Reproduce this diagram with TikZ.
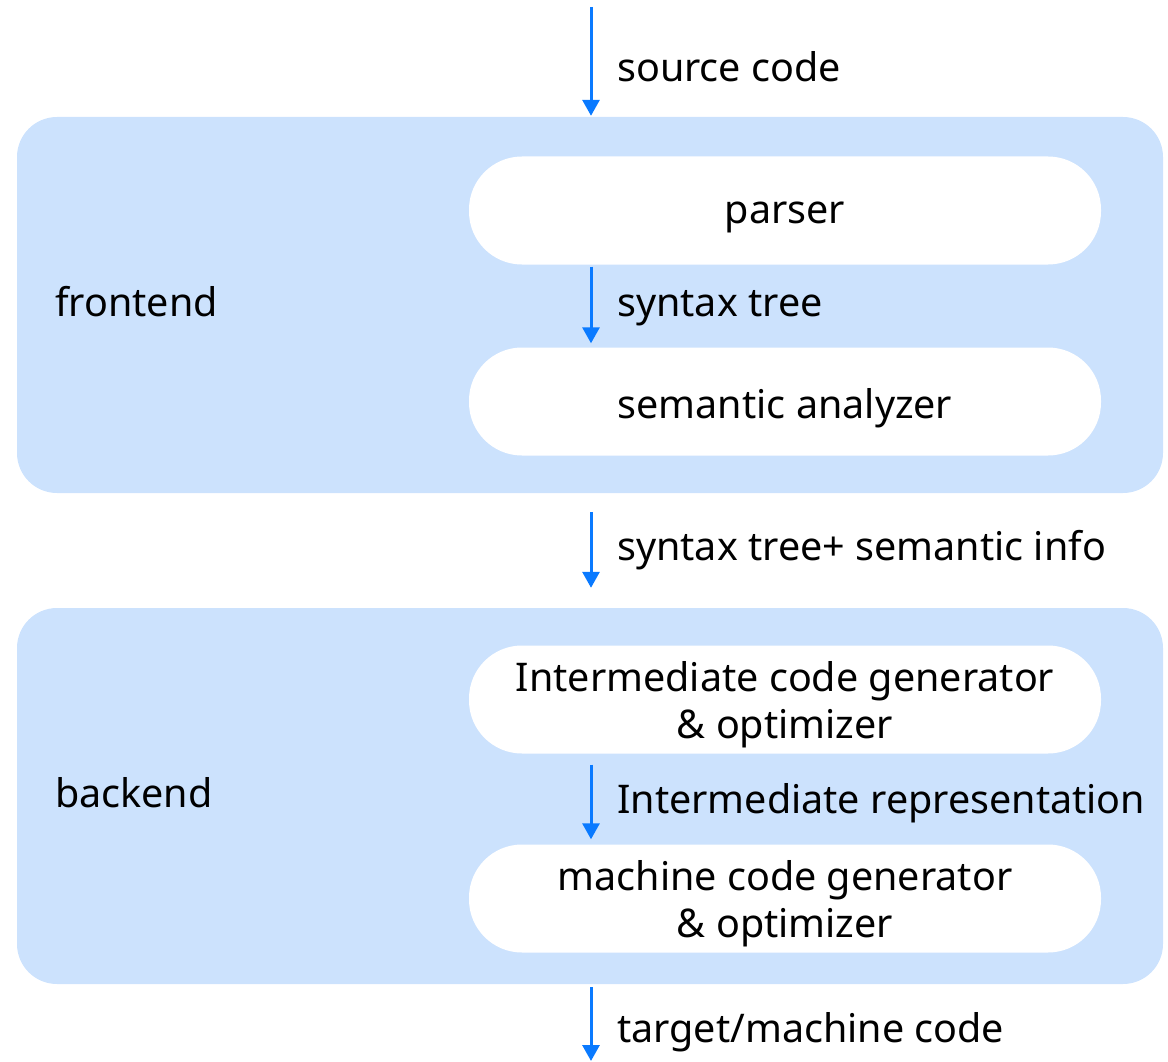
\documentclass[tikz,border=0pt]{standalone}
\usepackage{fontspec}
\setmainfont{Noto Sans}
\usetikzlibrary{arrows.meta,calc}
\definecolor{panel}{HTML}{CCE2FD}
\definecolor{flow}{HTML}{0A7AFF}
\begin{document}
\begin{tikzpicture}[x=1pt,y=-1pt,
  panelbox/.style={fill=panel, rounded corners=40pt, draw=none, minimum width=1146pt, minimum height=376pt, inner sep=0pt},
  pill/.style={fill=white, draw=none, rounded corners=53pt, minimum width=632pt, minimum height=108pt, inner sep=0pt},
  pilltext/.style={align=center, font=\fontsize{39.5}{47}\selectfont, inner sep=0pt},
  lbl/.style={anchor=west, font=\fontsize{39.5}{47}\selectfont, inner sep=0pt, text height=0.72em, text depth=0.2em, yshift=-9pt},
  flowarrow/.style={draw=flow, line width=3pt, -{Triangle[width=17pt,length=16pt]}}]
\useasboundingbox (0,0) rectangle (1168,1062);
\node[panelbox] (frontend) at (590,305) {};
\node[panelbox] (backend) at (590,796) {};
\node[pill] (parser) at (785,210.5) {};
\node[pill] (semantic) at (785,401.5) {};
\node[pill] (ic) at (785,699.5) {};
\node[pill] (mc) at (785,898.5) {};
\node[pilltext, yshift=-7pt] (tparser) at (parser) {parser};
\node[pilltext, yshift=-7pt] (tsemantic) at (semantic) {semantic analyzer};
\node[pilltext, yshift=-5pt] (tic) at (ic) {Intermediate code generator\\\& optimizer};
\node[pilltext, yshift=-5pt] (tmc) at (mc) {machine code generator\\\& optimizer};
\node[lbl] (lfront) at (55,305) {frontend};
\node[lbl] (lback) at (55,796) {backend};
\coordinate (src) at (591,7);
\coordinate (sink) at (591,1061);
\node[lbl] (l1) at (617,70) {source code};
\node[lbl] (l2) at (617,305) {syntax tree};
\node[lbl] (l3) at (617,549) {syntax tree+ semantic info};
\node[lbl] (l4) at (617,802) {Intermediate representation};
\node[lbl] (l5) at (617,1031) {target/machine code};
\draw[flowarrow, shorten >=1pt] (src) -- (src |- frontend.north);
\draw[flowarrow, shorten <=2pt, shorten >=4pt] (parser.south -| src) -- (semantic.north -| src);
\draw[flowarrow, shorten <=19pt, shorten >=20pt] (frontend.south -| src) -- (backend.north -| src);
\draw[flowarrow, shorten <=11pt, shorten >=5pt] (ic.south -| src) -- (mc.north -| src);
\draw[flowarrow, shorten <=3pt] (backend.south -| src) -- (sink);
\end{tikzpicture}
\end{document}
